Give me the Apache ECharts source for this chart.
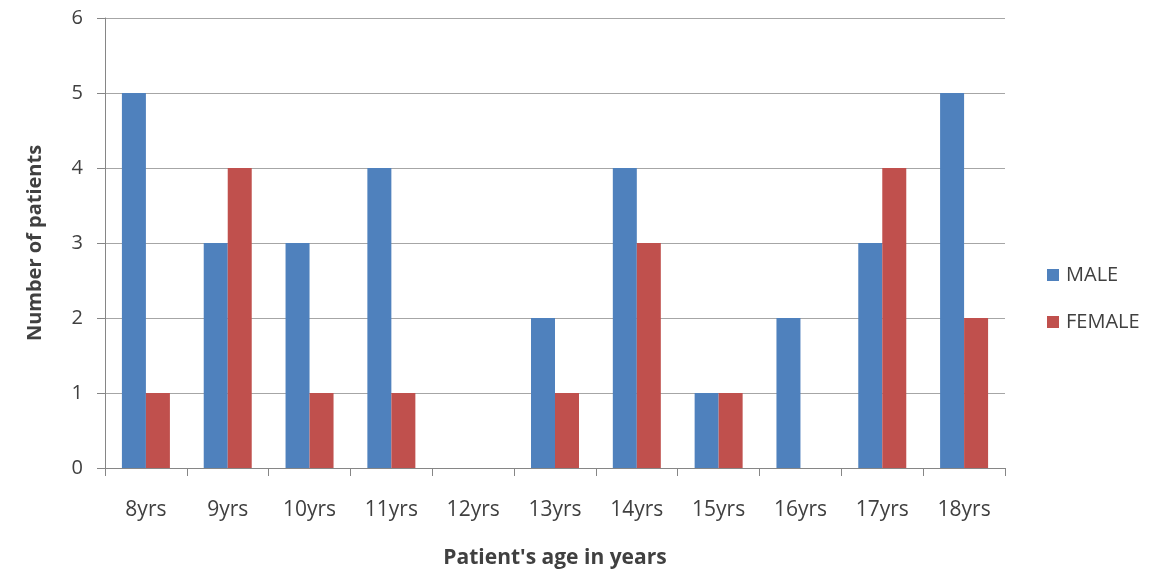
<!DOCTYPE html>
<html>
<head>
<meta charset="utf-8">
<script src="https://cdn.jsdelivr.net/npm/echarts@6/dist/echarts.min.js"></script>
<style>html,body{margin:0;padding:0;background:#fff;}#c{width:1154px;height:572px;}</style>
</head>
<body>
<div id="c"></div>
<script>
var categories = ['8yrs','9yrs','10yrs','11yrs','12yrs','13yrs','14yrs','15yrs','16yrs','17yrs','18yrs'];
var maleValues = [5,3,3,4,0,2,4,1,2,3,5];
var femaleValues = [1,4,1,1,0,1,3,1,0,4,2];
var yTicks = [0,1,2,3,4,5,6];

var txt = '#404040';
var font = '"Open Sans", Lato, sans-serif';
var chart = echarts.init(document.getElementById('c'));
chart.setOption({
  animation: false,
  textStyle: {fontFamily: font},
  grid: {left: 105, right: 149, top: 18, bottom: 104, containLabel: false, outerBoundsMode: 'none'},
  legend: {
    orient: 'vertical', left: 1047, top: 265, padding: 0, itemWidth: 12, itemHeight: 12, itemGap: 27,
    icon: 'rect',
    textStyle: {fontSize: 20, color: txt, fontFamily: font, padding: [0,0,0,2]},
    data: ['MALE','FEMALE']
  },
  xAxis: {
    type: 'category', data: categories,
    name: "Patient's age in years", nameLocation: 'middle', nameGap: 80,
    nameTextStyle: {fontSize: 21, fontWeight: 'bold', color: txt, fontFamily: font},
    axisLine: {lineStyle: {color: '#868686', width: 1}},
    axisTick: {show: true, length: 8, lineStyle: {color: '#868686'}},
    axisLabel: {fontSize: 21, color: txt, margin: 32, fontFamily: font}
  },
  yAxis: {
    type: 'value', min: yTicks[0], max: yTicks[yTicks.length-1], interval: 1,
    name: 'Number of patients', nameLocation: 'middle', nameGap: 60, nameRotate: 90,
    nameTextStyle: {fontSize: 20, fontWeight: 'bold', color: txt, fontFamily: font},
    axisLine: {show: true, lineStyle: {color: '#868686', width: 1}},
    axisTick: {show: true, length: 8, lineStyle: {color: '#868686'}},
    axisLabel: {fontSize: 20, color: txt, margin: 22, fontFamily: font},
    splitLine: {show: true, lineStyle: {color: '#a6a6a6', width: 1}}
  },
  series: [
    {name: 'MALE', type: 'bar', data: maleValues, barWidth: 24, barGap: '0%', itemStyle: {color: '#4F81BD'}},
    {name: 'FEMALE', type: 'bar', data: femaleValues, barWidth: 24, barGap: '0%', itemStyle: {color: '#C0504D'}}
  ]
});
</script>
</body>
</html>
